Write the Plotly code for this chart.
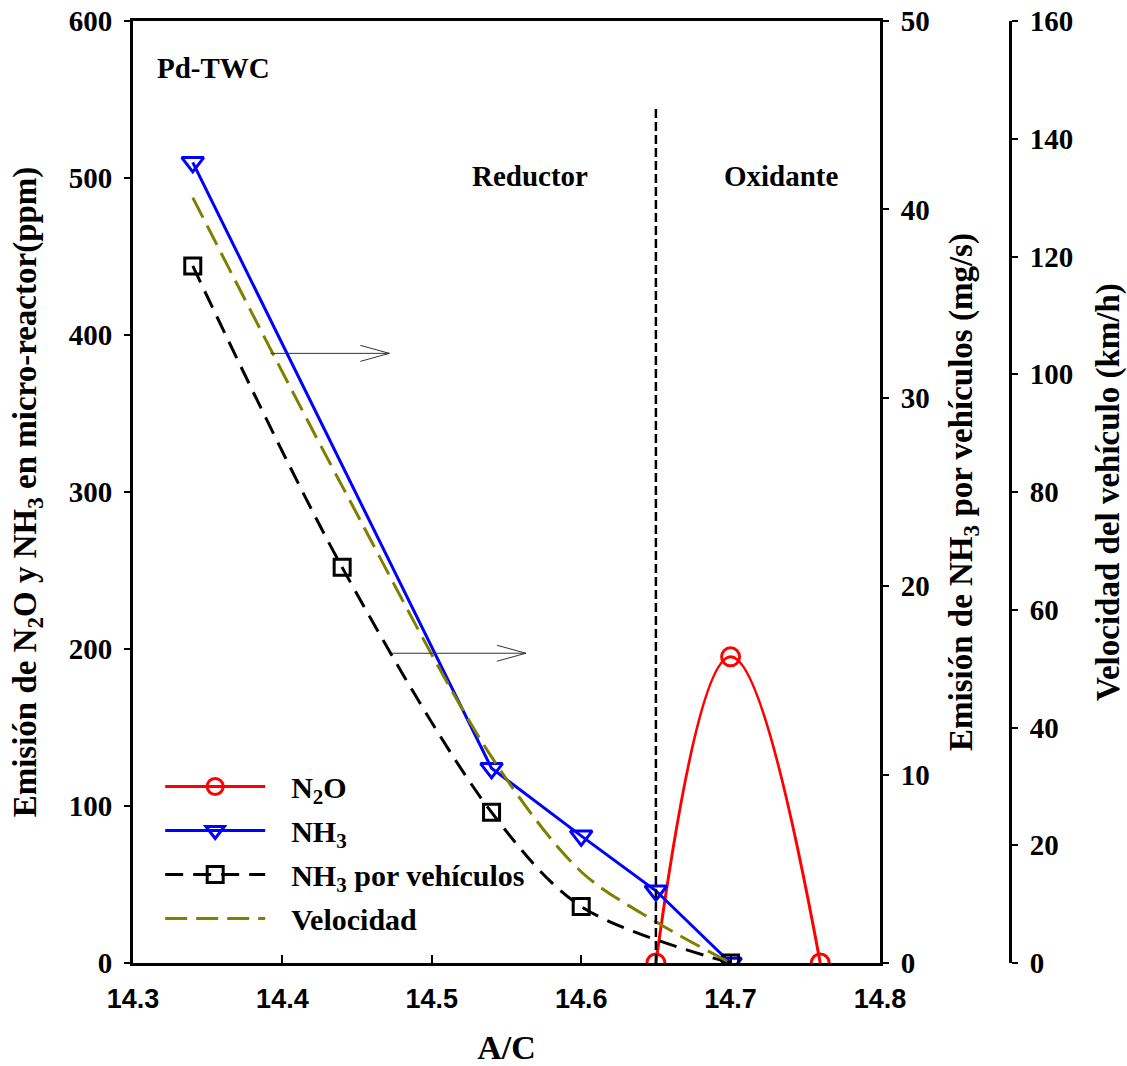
import plotly.graph_objects as go

# ---------------- data ----------------
x_n2o = [14.65, 14.70, 14.76]
y_n2o = [0, 195, 0]

x_nh3 = [14.34, 14.54, 14.60, 14.65, 14.70]
y_nh3 = [510, 124, 81, 46, 0]

x_veh = [14.34, 14.44, 14.54, 14.60, 14.70]
y_veh = [37, 21, 8, 3, 0]

x_vel = [14.34, 14.44, 14.54, 14.60, 14.65, 14.70]
y_vel = [130, 81, 35, 15.5, 7, 0]

x_ticks = [14.3, 14.4, 14.5, 14.6, 14.7, 14.8]
x_ticktext = ["14.3", "14.4", "14.5", "14.6", "14.7", "14.8"]

boundary_x = 14.65
boundary_top = 545

# ---------------- styling ----------------
SERIF = "Liberation Serif"
SANS = "Liberation Sans"
TICKF = dict(family=SERIF, size=29, color="black", weight="bold")
TITLEF = dict(family=SERIF, size=33, color="black", weight="bold")
ANNF = dict(family=SERIF, size=29, color="black", weight="bold")
NB = "\u00a0\u00a0\u2009"

fig = go.Figure()

fig.add_trace(go.Scatter(
    x=x_n2o, y=y_n2o, name=NB + "N<sub>2</sub>O", mode="lines+markers", legendgroup="a",
    line=dict(color="#ff0000", width=3, shape="spline", smoothing=1.2),
    marker=dict(symbol="circle-open", size=18, color="#ff0000", line=dict(width=3, color="#ff0000")),
    yaxis="y"))
fig.add_trace(go.Scatter(
    x=x_nh3, y=y_nh3, name=NB + "NH<sub>3</sub>", mode="lines+markers", legendgroup="b",
    line=dict(color="#0000ff", width=3),
    marker=dict(symbol="triangle-down-open", size=19, color="#0000ff", line=dict(width=3, color="#0000ff")),
    yaxis="y"))
fig.add_trace(go.Scatter(
    x=x_veh, y=y_veh, name=NB + "NH<sub>3</sub> por vehículos", mode="lines+markers", legendgroup="c",
    line=dict(color="black", width=3, dash="18px,10px", shape="spline", smoothing=0.9),
    marker=dict(symbol="square-open", size=16, color="black", line=dict(width=3, color="black")),
    yaxis="y2"))
fig.add_trace(go.Scatter(
    x=x_vel, y=y_vel, name=NB + "Velocidad", mode="lines", legendgroup="d",
    line=dict(color="#808000", width=3, dash="22px,9px", shape="spline", smoothing=0.9),
    yaxis="y3"))

# boundary line
fig.add_shape(type="line", xref="x", yref="y", x0=boundary_x, x1=boundary_x, y0=0, y1=boundary_top,
              line=dict(color="black", width=2.5, dash="9px,4px"))

# arrows pointing to right axes (annotation positions, data units)
px_x = 1494.0  # px per x unit
px_y = 1.57    # px per y unit
for (xa, xb, ya) in [(14.392, 14.4716, 388.3), (14.4732, 14.563, 197.3)]:
    dx = 29 / px_x
    dy = 8 / px_y
    fig.add_shape(type="path", xref="x", yref="y",
                  path=f"M {xa},{ya} L {xb},{ya} M {xb-dx},{ya+dy} L {xb},{ya} L {xb-dx},{ya-dy}",
                  line=dict(color="#333333", width=1))

fig.add_annotation(x=14.3147, y=570, xref="x", yref="y", text="Pd-TWC", showarrow=False,
                   xanchor="left", yanchor="middle", font=ANNF)
fig.add_annotation(x=14.566, y=501, xref="x", yref="y", text="Reductor", showarrow=False,
                   xanchor="center", yanchor="middle", font=ANNF)
fig.add_annotation(x=14.734, y=501, xref="x", yref="y", text="Oxidante", showarrow=False,
                   xanchor="center", yanchor="middle", font=ANNF)

xdom_end = 747 / 877

axis_common = dict(showline=True, linecolor="black", linewidth=3, ticks="outside", ticklen=6,
                   tickwidth=2, tickcolor="black", tickfont=TICKF, showgrid=False, zeroline=False,
                   automargin=False, ticklabelstandoff=6)

fig.update_layout(
    width=1127, height=1066,
    margin=dict(l=133, r=117, t=21, b=103),
    paper_bgcolor="white", plot_bgcolor="white",
    showlegend=True,
    legend=dict(x=0.031, y=0.215, xanchor="left", yanchor="top", bgcolor="rgba(0,0,0,0)",
                font=dict(family=SERIF, size=30, color="black", weight="bold"),
                itemwidth=100, tracegroupgap=2, traceorder="grouped"),
    xaxis=dict(domain=[0, xdom_end], range=[14.3, 14.8], tickvals=x_ticks, ticktext=x_ticktext,
               showline=True, linecolor="black", linewidth=3, mirror=True,
               ticks="inside", ticklen=8, tickwidth=2, tickcolor="black", ticklabelstandoff=10,
               tickfont=dict(family=SANS, size=27, color="black", weight="bold"),
               title=dict(text="A/C", font=dict(family=SERIF, size=34, color="black", weight="bold"), standoff=27),
               showgrid=False, zeroline=False, automargin=False),
    yaxis=dict(range=[0, 600], dtick=100, **axis_common,
               title=dict(text="Emisión de N<sub>2</sub>O y NH<sub>3</sub> en micro-reactor(ppm)", font=TITLEF, standoff=23)),
    yaxis2=dict(range=[0, 50], dtick=10, overlaying="y", side="right", anchor="x", **axis_common,
                title=dict(text="Emisión de NH<sub>3</sub> por vehículos (mg/s)", font=TITLEF, standoff=21)),
    yaxis3=dict(range=[0, 160], dtick=20, overlaying="y", side="right", anchor="free", position=1.0, **axis_common,
                title=dict(text="Velocidad del vehículo (km/h)", font=TITLEF, standoff=25)),
)

fig.write_html("out.html")
